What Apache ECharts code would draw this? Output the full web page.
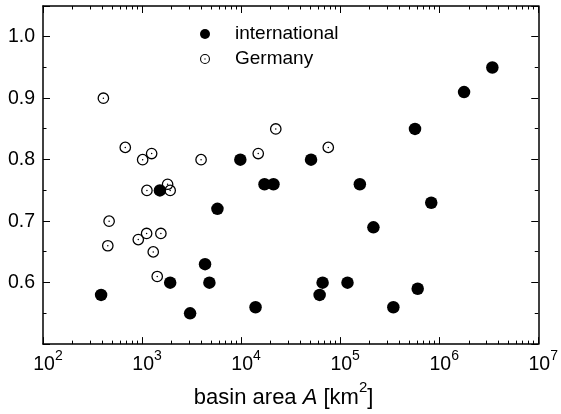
<!DOCTYPE html>
<html>
<head>
<meta charset="utf-8">
<script src="https://cdn.jsdelivr.net/npm/echarts@6/dist/echarts.min.js"></script>
<style>
html,body{margin:0;padding:0;background:#fff;}
#chart{width:561px;height:414px;}
</style>
</head>
<body>
<div id="chart"></div>
<script>
// ---- data ----
const intlArea  = [386, 1514, 1923, 3055, 4325, 4786, 5768, 9820, 13990, 17230, 21220, 50820, 62060, 66500, 118600, 158000, 216700, 344400, 569700, 606500, 831000, 1782000, 3440000];
const intlValue = [0.58, 0.75, 0.60, 0.55, 0.63, 0.60, 0.72, 0.80, 0.56, 0.76, 0.76, 0.80, 0.58, 0.60, 0.60, 0.76, 0.69, 0.56, 0.85, 0.59, 0.73, 0.91, 0.95];
const gerArea   = [407, 465, 451, 677, 916, 1014, 1112, 1120, 1250, 1297, 1423, 1549, 1811, 1923, 3944, 14890, 22390, 75860];
const gerValue  = [0.90, 0.70, 0.66, 0.82, 0.67, 0.80, 0.68, 0.75, 0.81, 0.65, 0.61, 0.68, 0.76, 0.75, 0.80, 0.81, 0.85, 0.82];
const seriesNames = ['international', 'Germany'];
const xMin = 100, xMax = 1e7;
const yMin = 0.5, yMax = 1.05;
const xMinorTicks = [];
for (let e = 2; e < 7; e++) for (let m = 2; m <= 9; m++) xMinorTicks.push(m * Math.pow(10, e));
const yMinorTicks = [0.55, 0.65, 0.75, 0.85, 0.95];
const xTitle = ['basin area ', 'A', ' [km', '2', ']'];

const FONT = '"Liberation Sans", Arial, Helvetica, sans-serif';
const RING = 'path://M0,-10A10,10 0 1,1 0,10A10,10 0 1,1 0,-10Z M0,-7.8A7.8,7.8 0 1,0 0,7.8A7.8,7.8 0 1,0 0,-7.8Z M0,-1.3A1.3,1.3 0 1,1 0,1.3A1.3,1.3 0 1,1 0,-1.3Z';

const chart = echarts.init(document.getElementById('chart'), null, {renderer: 'canvas'});

const axisLine = {show: true, onZero: false, lineStyle: {color: '#000', width: 1.5}};
const axisTick = {show: true, inside: true, length: 7, lineStyle: {color: '#000', width: 1}};

function crisp(v) { return Math.round(v - 0.5) + 0.5; }

chart.setOption({
  animation: false,
  backgroundColor: '#fff',
  grid: {left: 43, right: 21, top: 6, bottom: 66.5, containLabel: false},
  legend: {
    orient: 'vertical', left: 200, top: 23, padding: 0,
    itemWidth: 10, itemHeight: 10, itemGap: 3,
    textStyle: {fontFamily: FONT, fontSize: 19, color: '#000', lineHeight: 22, padding: [0, 0, 0, 20]},
    data: [
      {name: seriesNames[0], icon: 'circle'},
      {name: seriesNames[1], icon: RING}
    ]
  },
  xAxis: [
    {
      type: 'log', logBase: 10, min: xMin, max: xMax, position: 'bottom',
      axisLine: axisLine, axisTick: axisTick, splitLine: {show: false},
      axisLabel: {
        margin: 5, color: '#000', fontFamily: FONT,
        formatter: function (v) {
          const e = Math.round(Math.log10(v));
          return '{p| }{b|10}{s|' + e + '}';
        },
        rich: {
          p: {width: 10, fontSize: 14, fontFamily: FONT},
          b: {fontSize: 19.5, lineHeight: 26, verticalAlign: 'bottom', fontFamily: FONT, color: '#000'},
          s: {fontSize: 14, lineHeight: 14, verticalAlign: 'top', fontFamily: FONT, color: '#000'}
        }
      },
      name: '{t|' + xTitle[0] + '}{i|' + xTitle[1] + '}{t|' + xTitle[2] + '}{s|' + xTitle[3] + '}{t|' + xTitle[4] + '}',
      nameLocation: 'middle', nameGap: 35,
      nameTextStyle: {
        padding: [0, 14, 0, 0],
        rich: {
          t: {fontSize: 22, lineHeight: 29, verticalAlign: 'bottom', fontFamily: FONT, color: '#000'},
          i: {fontSize: 22, lineHeight: 29, verticalAlign: 'bottom', fontStyle: 'italic', fontFamily: FONT, color: '#000'},
          s: {fontSize: 15, lineHeight: 15, verticalAlign: 'top', fontFamily: FONT, color: '#000'}
        }
      }
    },
    {
      type: 'log', logBase: 10, min: xMin, max: xMax, position: 'top',
      axisLine: axisLine, axisTick: axisTick, axisLabel: {show: false}, splitLine: {show: false}
    }
  ],
  yAxis: [
    {
      type: 'value', min: yMin, max: yMax, interval: 0.1, position: 'left',
      axisLine: axisLine, axisTick: axisTick, splitLine: {show: false},
      axisLabel: {
        margin: 8, color: '#000', fontFamily: FONT, fontSize: 19.5,
        formatter: function (v) {
          const r = Math.round(v * 10) / 10;
          if (Math.abs(v - r) > 1e-6 || r < 0.55 || r > 1.0) return '';
          return r.toFixed(1);
        }
      }
    },
    {
      type: 'value', min: yMin, max: yMax, interval: 0.1, position: 'right',
      axisLine: axisLine, axisTick: axisTick, axisLabel: {show: false}, splitLine: {show: false}
    }
  ],
  series: [
    {
      name: 'xminor', type: 'custom', silent: true, clip: false, z: 1,
      xAxisIndex: 0, yAxisIndex: 0,
      data: xMinorTicks.map(v => [v]),
      encode: {x: 0},
      renderItem: function (params, api) {
        const v = api.value(0);
        const b = api.coord([v, yMin]);
        const t = api.coord([v, yMax]);
        const x = crisp(b[0]);
        return {type: 'group', children: [
          {type: 'line', shape: {x1: x, y1: b[1], x2: x, y2: b[1] - 3.5}, style: {stroke: '#000', lineWidth: 1}},
          {type: 'line', shape: {x1: x, y1: t[1], x2: x, y2: t[1] + 3.5}, style: {stroke: '#000', lineWidth: 1}}
        ]};
      }
    },
    {
      name: 'yminor', type: 'custom', silent: true, clip: false, z: 1,
      xAxisIndex: 0, yAxisIndex: 0,
      data: yMinorTicks.map(v => [xMin, v]),
      encode: {x: 0, y: 1},
      renderItem: function (params, api) {
        const v = api.value(1);
        const l = api.coord([xMin, v]);
        const r = api.coord([xMax, v]);
        const y = crisp(l[1]);
        return {type: 'group', children: [
          {type: 'line', shape: {x1: l[0], y1: y, x2: l[0] + 3.5, y2: y}, style: {stroke: '#000', lineWidth: 1}},
          {type: 'line', shape: {x1: r[0], y1: y, x2: r[0] - 3.5, y2: y}, style: {stroke: '#000', lineWidth: 1}}
        ]};
      }
    },
    {
      name: seriesNames[0], type: 'scatter', z: 3,
      symbol: 'circle', symbolSize: 12.5,
      itemStyle: {color: '#000', opacity: 1},
      data: intlArea.map((a, i) => [a, intlValue[i]])
    },
    {
      name: seriesNames[1], type: 'scatter', z: 4,
      symbol: RING, symbolSize: 11.7,
      itemStyle: {color: '#000', opacity: 1},
      data: gerArea.map((a, i) => [a, gerValue[i]])
    }
  ]
});
</script>
</body>
</html>
